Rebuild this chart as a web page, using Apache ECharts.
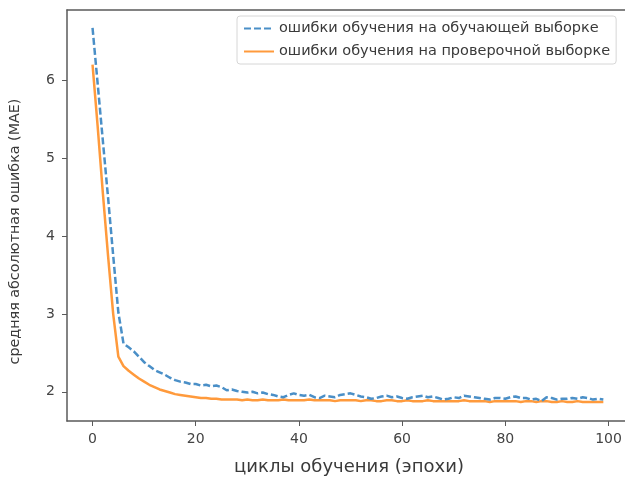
<!DOCTYPE html>
<html>
<head>
<meta charset="utf-8">
<script src="https://cdn.jsdelivr.net/npm/echarts@6/dist/echarts.min.js"></script>
<style>
html, body { margin: 0; padding: 0; background: #fff; }
#lossChart { width: 625px; height: 481px; }
</style>
</head>
<body>
<div id="lossChart"></div>
<script>
// эпохи 0..99
var epochs = [];
for (let i = 0; i < 100; i++) {
    epochs.push(i);
}

// ошибка на обучающей выборке (MAE)
var trainMae = [
    6.67, 5.95, 5.22, 4.50, 3.75, 3.02, 2.62, 2.57, 2.52, 2.45,
    2.38, 2.33, 2.28, 2.25, 2.22, 2.18, 2.15, 2.13, 2.12, 2.10,
    2.10, 2.08, 2.09, 2.07, 2.08, 2.06, 2.02, 2.03, 2.01, 2.00,
    1.99, 2.00, 1.98, 1.99, 1.97, 1.96, 1.94, 1.93, 1.96, 1.98,
    1.96, 1.95, 1.96, 1.93, 1.92, 1.95, 1.94, 1.93, 1.96, 1.97,
    1.98, 1.96, 1.94, 1.93, 1.91, 1.92, 1.94, 1.95, 1.93, 1.94,
    1.92, 1.91, 1.93, 1.94, 1.95, 1.93, 1.94, 1.92, 1.90, 1.91,
    1.93, 1.92, 1.95, 1.94, 1.93, 1.92, 1.91, 1.90, 1.92, 1.92,
    1.91, 1.93, 1.94, 1.92, 1.92, 1.90, 1.91, 1.88, 1.93, 1.92,
    1.90, 1.91, 1.91, 1.92, 1.91, 1.93, 1.92, 1.90, 1.91, 1.90
];

// ошибка на проверочной выборке (MAE)
var valMae = [
    6.20, 5.40, 4.55, 3.75, 3.00, 2.45, 2.33, 2.27, 2.22, 2.17,
    2.13, 2.09, 2.06, 2.03, 2.01, 1.99, 1.97, 1.96, 1.95, 1.94,
    1.93, 1.92, 1.92, 1.91, 1.91, 1.90, 1.90, 1.90, 1.90, 1.89,
    1.90, 1.89, 1.89, 1.90, 1.89, 1.89, 1.89, 1.90, 1.89, 1.89,
    1.89, 1.89, 1.90, 1.89, 1.89, 1.89, 1.89, 1.88, 1.89, 1.89,
    1.89, 1.89, 1.88, 1.89, 1.89, 1.88, 1.88, 1.89, 1.89, 1.88,
    1.88, 1.89, 1.88, 1.88, 1.88, 1.89, 1.88, 1.88, 1.88, 1.88,
    1.88, 1.88, 1.89, 1.88, 1.88, 1.88, 1.88, 1.87, 1.88, 1.88,
    1.88, 1.88, 1.88, 1.87, 1.88, 1.88, 1.87, 1.88, 1.88, 1.87,
    1.87, 1.88, 1.87, 1.87, 1.88, 1.87, 1.87, 1.87, 1.87, 1.87
];

var xTicks = [0, 20, 40, 60, 80, 100];
var yTicks = [2, 3, 4, 5, 6];

var seriesNames = [
    'ошибки обучения на обучающей выборке',
    'ошибки обучения на проверочной выборке'
];

function pairs(xs, ys) {
    return xs.map(function (x, i) { return [x, ys[i]]; });
}

var font = 'DejaVu Sans';
var spine = '#5a5a5a';
var chart = echarts.init(document.getElementById('lossChart'));

var option = {
    animation: false,
    textStyle: { fontFamily: font },
    grid: {
        left: 65,
        right: 0,
        top: 10,
        bottom: 49
    },
    legend: {
        left: 237,
        top: 16,
        orient: 'vertical',
        itemWidth: 30,
        itemHeight: 10,
        itemGap: 8,
        padding: [5, 6, 5, 6],
        borderColor: '#d6d6d6',
        borderWidth: 1,
        borderRadius: 3,
        backgroundColor: '#fff',
        itemStyle: { color: 'transparent', borderWidth: 0, opacity: 0 },
        textStyle: { fontFamily: font, fontSize: 14.5, color: '#3a3a3a' },
        data: seriesNames
    },
    xAxis: [
        {
            type: 'value',
            min: -4.95,
            max: 103.2,
            name: 'циклы обучения (эпохи)',
            nameLocation: 'middle',
            nameGap: 37,
            nameTextStyle: { fontFamily: font, fontSize: 18, color: '#3a3a3a', padding: [0, 0, 0, 6] },
            axisLine: { show: true, onZero: false, lineStyle: { color: spine, width: 1.5 } },
            axisTick: { show: true, customValues: xTicks, length: 5, lineStyle: { color: spine } },
            axisLabel: { customValues: xTicks, fontSize: 14, color: '#444', margin: 11 },
            splitLine: { show: false }
        },
        {
            // верхняя рамка
            type: 'value',
            position: 'top',
            min: -4.95,
            max: 103.2,
            axisLine: { show: true, onZero: false, lineStyle: { color: spine, width: 1.5 } },
            axisTick: { show: false },
            axisLabel: { show: false },
            splitLine: { show: false }
        }
    ],
    yAxis: {
        type: 'value',
        min: 1.625,
        max: 6.9,
        name: 'средняя абсолютная ошибка (MAE)',
        nameLocation: 'middle',
        nameGap: 45,
        nameTextStyle: { fontFamily: font, fontSize: 14.3, color: '#3a3a3a', padding: [0, 32, 0, 0] },
        axisLine: { show: true, onZero: false, lineStyle: { color: spine, width: 1.5 } },
        axisTick: { show: true, customValues: yTicks, length: 5, lineStyle: { color: spine } },
        axisLabel: { customValues: yTicks, fontSize: 14, color: '#444', margin: 12 },
        splitLine: { show: false }
    },
    series: [
        {
            name: seriesNames[0],
            type: 'line',
            showSymbol: false,
            symbol: 'none',
            data: pairs(epochs, trainMae),
            itemStyle: { color: '#4a8fc7' },
            lineStyle: { color: '#4a8fc7', width: 2.5, type: [7, 3] },
            z: 3
        },
        {
            name: seriesNames[1],
            type: 'line',
            showSymbol: false,
            symbol: 'none',
            data: pairs(epochs, valMae),
            itemStyle: { color: '#ff9a3c' },
            lineStyle: { color: '#ff9a3c', width: 2.5 },
            z: 2
        }
    ]
};

chart.setOption(option);
</script>
</body>
</html>
